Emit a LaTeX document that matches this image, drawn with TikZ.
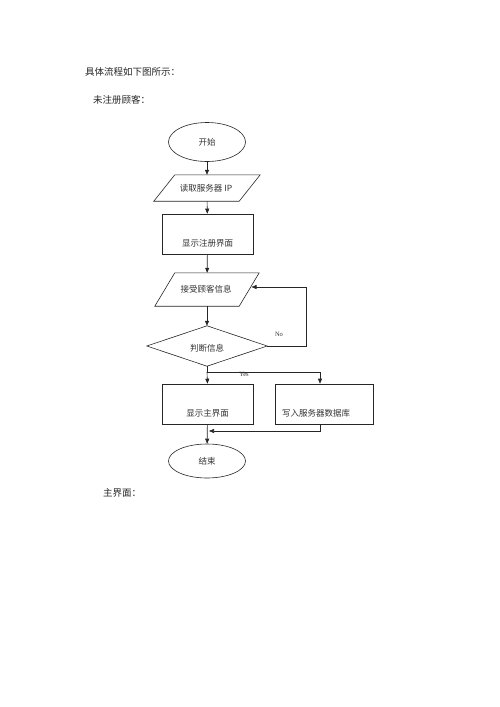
\documentclass[tikz,border=0pt]{standalone}
\usepackage{fontspec}
\setmainfont{Liberation Serif}
\newfontfamily\cjk{Noto Sans CJK SC}
\usetikzlibrary{shapes.geometric,arrows.meta}
\begin{document}
\begin{tikzpicture}[x=1pt,y=-1pt,
  line/.style={line width=0.6pt, draw=black!85},
  arr/.style={line, -{Triangle[length=5pt,width=4pt]}},
  term/.style={ellipse, draw=black!85, line width=0.6pt, minimum width=77pt, minimum height=39pt, inner sep=0pt, font=\cjk\fontsize{8.5pt}{10pt}\selectfont, text=black!80},
  box/.style={rectangle, draw=black!85, line width=0.6pt, minimum height=40pt, inner sep=0pt},
  ghost/.style={rectangle, draw=none, inner sep=0pt},
  lbl/.style={font=\cjk\fontsize{8.5pt}{10pt}\selectfont, text=black!80, inner sep=0pt},
  body/.style={font=\cjk\fontsize{9.5pt}{11pt}\selectfont, text=black!85, inner sep=0pt, anchor=west},
  yn/.style={font=\fontsize{6.5pt}{7pt}\selectfont, text=black!80, inner sep=0pt}
]
\fill[white] (0,0) rectangle (500,707);
\useasboundingbox (0,0) rectangle (500,707);

% body text
\node[body] (t1) at (85,72) {具体流程如下图所示：};
\node[body] (t2) at (93,100) {未注册顾客：};
\node[body] (t3) at (103,493) {主界面：};

% start
\node[term] (s) at (207,142) {开始};

% read server IP (parallelogram)
\node[ghost, minimum width=85pt, minimum height=26pt] (p1) at (207,188) {};
\draw[line] ([xshift=10.5pt]p1.north west) -- ([xshift=10.5pt]p1.north east)
  -- ([xshift=-10.5pt]p1.south east) -- ([xshift=-10.5pt]p1.south west) -- cycle;
\node[lbl] (p1t) at (206,188) {读取服务器 IP};

% show register UI
\node[box, minimum width=91pt] (b1) at (207.5,234) {};
\node[lbl] (b1t) at (207.5,243) {显示注册界面};

% receive customer info (parallelogram)
\node[ghost, minimum width=84pt, minimum height=33pt] (p2) at (207,289.5) {};
\draw[line] ([xshift=10pt]p2.north west) -- ([xshift=10pt]p2.north east)
  -- ([xshift=-10pt]p2.south east) -- ([xshift=-10pt]p2.south west) -- cycle;
\node[lbl] (p2t) at (206,289) {接受顾客信息};
\coordinate (p2r) at (251.5,287);

% decision
\node[ghost, minimum width=120pt, minimum height=40pt] (d) at (207,346) {};
\draw[line] (d.north) -- (d.east) -- (d.south) -- (d.west) -- cycle;
\node[lbl] (dt) at (207,348) {判断信息};

% show main UI
\node[box, minimum width=91pt] (b2) at (207.5,404) {};
\node[lbl] (b2t) at (207.5,413) {显示主界面};

% write to server db
\node[box, minimum width=98pt] (b3) at (324,404) {};
\node[lbl] (b3t) at (316,413) {写入服务器数据库};

% end
\node[term, minimum height=34pt] (e) at (207,461) {结束};

% connectors
\draw[arr] (s) -- (p1);
\draw[arr] (p1) -- (b1);
\draw[arr] (b1) -- (p2);
\draw[arr] (p2) -- (d.north);
\draw[arr] (d.east) -- (306,346) |- (p2r);
\node[yn] (no) at (279,334) {No};
\coordinate (j) at (207,372);
\draw[line] (d.south) -- (j);
\draw[arr] (j) -- (b2.north);
\draw[arr] (j) -| (b3.north -| 320,0);
\node[yn] (yes) at (244,374) {Yes};
\draw[arr] (b2) -- (e);
\draw[arr] (b3.south -| 320,0) |- (209,431);
\end{tikzpicture}
\end{document}
